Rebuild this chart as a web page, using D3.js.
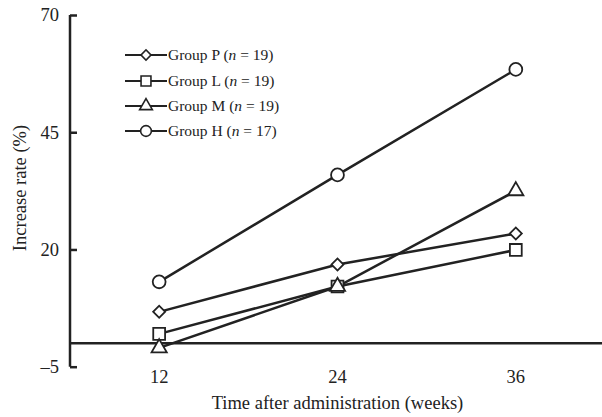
<!DOCTYPE html>
<html>
<head>
<meta charset="utf-8">
<script src="https://cdn.jsdelivr.net/npm/d3@7"></script>
<style>
  body { margin: 0; background: #fff; }
  svg text { font-family: "Liberation Serif", "Times New Roman", serif; fill: #222; }
</style>
</head>
<body>
<div id="chart"></div>
<script>
// data
var weeks = [12, 24, 36];
var groupNames = ["Group P", "Group L", "Group M", "Group H"];
var groupN = [19, 19, 19, 17];
var groupSymbols = ["diamond", "square", "triangle", "circle"];
var groupP = [6.7, 16.8, 23.4];
var groupL = [2.0, 12.1, 19.9];
var groupM = [-1.0, 12.1, 32.5];
var groupH = [13.1, 35.9, 58.4];
var yTicks = [-5, 20, 45, 70];

var series = [groupP, groupL, groupM, groupH];

var width = 602, height = 417;
var svg = d3.select('#chart').append('svg')
    .attr('width', width)
    .attr('height', height);

var x = d3.scaleLinear().domain([6, 41.8]).range([70, 602]);
var y = d3.scaleLinear().domain([-5, 70]).range([366.7, 15]);

var ink = '#222';

// y axis, ticks pointing inward
var leftAxis = d3.axisRight(y).tickValues(yTicks).tickSize(7).tickFormat('');
var yAxis = svg.append('g')
    .attr('transform', 'translate(70,0)')
    .call(leftAxis);
yAxis.select('.domain').attr('d', `M0,${y(70)}V${y(-5)}`).attr('stroke', ink).attr('stroke-width', 2.5);
yAxis.selectAll('.tick line').attr('stroke', ink).attr('stroke-width', 2.5);

svg.selectAll('text.ytick')
    .data(yTicks)
    .enter().append('text')
    .attr('class', 'ytick')
    .attr('x', 59)
    .attr('y', d => y(d))
    .attr('dy', '0.35em')
    .attr('text-anchor', 'end')
    .style('font-size', '18.5px')
    .text(d => d < 0 ? '\u2013' + Math.abs(d) : d);

// zero line across the plot
svg.append('line')
    .attr('x1', x(6)).attr('x2', x(41.8))
    .attr('y1', y(0)).attr('y2', y(0))
    .attr('stroke', ink).attr('stroke-width', 2.5);

// x tick labels (no x axis line)
svg.selectAll('text.xtick')
    .data(weeks)
    .enter().append('text')
    .attr('class', 'xtick')
    .attr('x', d => x(d))
    .attr('y', 383)
    .attr('text-anchor', 'middle')
    .style('font-size', '18.5px')
    .text(d => d);

// axis titles
svg.append('text')
    .attr('x', x(24))
    .attr('y', 409)
    .attr('text-anchor', 'middle')
    .style('font-size', '18.5px')
    .text('Time after administration (weeks)');

svg.append('text')
    .attr('transform', 'translate(26,188)rotate(-90)')
    .attr('text-anchor', 'middle')
    .style('font-size', '18.5px')
    .text('Increase rate (%)');

// diamond = square turned 45 degrees
var symType = {
  diamond: d3.symbolSquare,
  square: d3.symbolSquare,
  triangle: d3.symbolTriangle,
  circle: d3.symbolCircle
};
var symSize = { diamond: 72, square: 140, triangle: 100, circle: 130 };
var symRot = { diamond: 45, square: 0, triangle: 0, circle: 0 };

var line = d3.line()
    .x((d, i) => x(weeks[i]))
    .y(d => y(d));

// lines
series.forEach(function(vals, k) {
  svg.append('path')
      .datum(vals)
      .attr('d', line)
      .attr('fill', 'none')
      .attr('stroke', ink)
      .attr('stroke-width', 2.5);
});

// markers
series.forEach(function(vals, k) {
  var s = groupSymbols[k];
  svg.selectAll('path.m' + k)
      .data(vals)
      .enter().append('path')
      .attr('class', 'm' + k)
      .attr('transform', (d, i) => `translate(${x(weeks[i])},${y(d)})rotate(${symRot[s]})`)
      .attr('d', d3.symbol().type(symType[s]).size(symSize[s]))
      .attr('fill', '#fff')
      .attr('stroke', ink)
      .attr('stroke-width', 1.8);
});

// legend
var legend = svg.append('g');
var rowY = [55, 81, 106, 131];
groupNames.forEach(function(name, k) {
  var g = legend.append('g').attr('transform', `translate(0,${rowY[k]})`);
  g.append('line')
      .attr('x1', 125).attr('x2', 167)
      .attr('y1', 0).attr('y2', 0)
      .attr('stroke', ink).attr('stroke-width', 2.2);
  var s = groupSymbols[k];
  g.append('path')
      .attr('transform', `translate(146,0)rotate(${symRot[s]})`)
      .attr('d', d3.symbol().type(symType[s]).size(symSize[s] * 0.7))
      .attr('fill', '#fff')
      .attr('stroke', ink)
      .attr('stroke-width', 1.6);
  var t = g.append('text')
      .attr('x', 168)
      .attr('dy', '0.35em')
      .style('font-size', '15.5px');
  t.append('tspan').text(name + ' (');
  t.append('tspan').style('font-style', 'italic').text('n');
  t.append('tspan').text(' = ' + groupN[k] + ')');
});
</script>
</body>
</html>
